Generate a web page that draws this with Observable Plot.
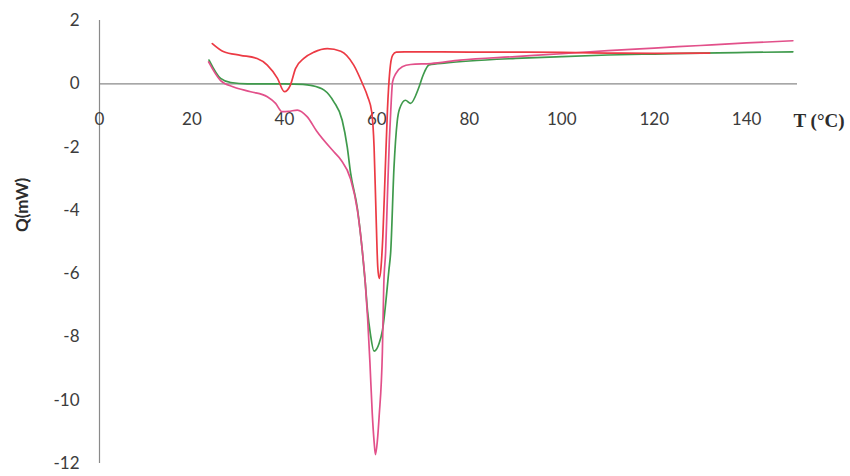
<!DOCTYPE html>
<html>
<head>
<meta charset="utf-8">
<script src="https://cdn.jsdelivr.net/npm/d3@7"></script>
<script src="https://cdn.jsdelivr.net/npm/@observablehq/plot@0.6"></script>
<style>
  html, body { margin: 0; padding: 0; background: #fff; }
  #chart svg { display: block; }
</style>
</head>
<body>
<div id="chart"></div>
<script>
// Temperature (°C) and heat flow Q (mW)
const redT = [24.4, 26.9, 30.5, 34.1, 36.3, 38.5, 40.0, 41.3, 42.4, 44.2, 46.4, 49.3, 52.2, 55.0, 56.9, 58.0, 58.9, 59.4, 59.8, 60.2, 60.5, 60.9, 61.3, 61.8, 62.3, 62.8, 63.4, 64.2, 66, 70, 80, 90, 100, 110, 120, 132];
const redQ = [1.27, 1.01, 0.90, 0.80, 0.59, 0.17, -0.25, -0.04, 0.48, 0.80, 1.00, 1.11, 1.03, 0.59, 0.0, -0.4, -0.9, -2.0, -4.0, -5.8, -6.15, -5.8, -4.8, -2.8, -0.8, 0.4, 0.9, 1.0, 1.01, 1.01, 1.0, 1.0, 0.99, 0.97, 0.96, 0.97];

const pinkT = [23.6, 26.2, 29.0, 32.7, 36.3, 38.1, 39.5, 40.9, 42.8, 44.9, 47.0, 50.7, 52.2, 54.3, 55.8, 56.8, 57.5, 58.0, 58.5, 59.0, 59.4, 59.7, 60.1, 60.5, 61.2, 61.5, 61.9, 62.3, 62.7, 63.0, 63.4, 64.1, 65.5, 67.3, 71.7, 78, 90, 100, 110, 120, 130, 140, 150];
const pinkQ = [0.69, 0.10, -0.10, -0.25, -0.41, -0.62, -0.88, -0.87, -0.83, -1.04, -1.50, -2.15, -2.40, -3.0, -4.0, -5.2, -6.3, -7.4, -8.8, -10.4, -11.3, -11.72, -11.3, -10.5, -8.45, -6.35, -5.3, -3.5, -1.8, -0.88, 0.06, 0.32, 0.54, 0.61, 0.64, 0.75, 0.86, 0.95, 1.05, 1.13, 1.21, 1.29, 1.36];

const greenT = [23.7, 26.2, 28.4, 32, 36, 40, 44, 45.7, 48.6, 50.7, 52.5, 53.6, 54.3, 55.8, 56.8, 57.5, 58.0, 58.6, 59.4, 60.5, 61.2, 62.6, 63.0, 63.7, 64.4, 64.9, 66.2, 67.3, 69.0, 70.0, 71.3, 75, 80, 90, 100, 110, 120, 130, 140, 150];
const greenQ = [0.75, 0.17, 0.04, 0.0, 0.0, 0.0, -0.02, -0.05, -0.20, -0.57, -1.15, -2.0, -2.8, -3.95, -5.2, -6.3, -7.2, -7.9, -8.45, -8.2, -7.8, -5.9, -5.3, -2.67, -1.2, -0.8, -0.52, -0.62, -0.15, 0.27, 0.60, 0.66, 0.72, 0.80, 0.86, 0.91, 0.94, 0.97, 0.99, 1.01];

const xTicks = [0, 20, 40, 60, 80, 100, 120, 140];
const yTicks = [2, 0, -2, -4, -6, -8, -10, -12];

const toRows = (T, Q) => T.map((t, i) => ({t, q: Q[i]}));
const red = toRows(redT, redQ);
const pink = toRows(pinkT, pinkQ);
const green = toRows(greenT, greenQ);

const font = "Lato, 'Open Sans', sans-serif";

const chart = Plot.plot({
  width: 850,
  height: 476,
  marginLeft: 99,
  marginRight: 53,
  marginTop: 20,
  marginBottom: 13,
  style: {fontFamily: font, fontSize: "17px", color: "#3c3c3c", background: "#fff"},
  x: {domain: [0, 151], axis: null},
  y: {domain: [-12, 2], axis: null},
  marks: [
    Plot.axisY({ticks: yTicks, tickSize: 0, tickPadding: 20, tickFormat: d => String(d), label: null, fontSize: 17, fill: "#3c3c3c"}),
    Plot.ruleX([0], {stroke: "#8a8a8a", strokeWidth: 1.2}),
    Plot.ruleY([0], {stroke: "#8a8a8a", strokeWidth: 1.2}),
    Plot.text(xTicks, {x: d => d, y: 0, dy: 36, text: d => String(d), fontSize: 17, fill: "#3c3c3c"}),
    Plot.line(green, {x: "t", y: "q", stroke: "#3f9a4c", strokeWidth: 1.7, curve: "monotone-x"}),
    Plot.line(pink, {x: "t", y: "q", stroke: "#e2508a", strokeWidth: 1.7, curve: "monotone-x"}),
    Plot.line(red, {x: "t", y: "q", stroke: "#ec3a44", strokeWidth: 1.7, curve: "monotone-x"}),
    Plot.text(["Q(mW)"], {frameAnchor: "left", dx: -77, dy: -10, rotate: -90, text: d => d, fontSize: 17, fontWeight: "bold", fill: "#2c2c2c"}),
    Plot.text(["T (°C)"], {frameAnchor: "top-right", dx: -4, dy: 93, textAnchor: "start", text: d => d, fontSize: 19, fontWeight: "bold", fontFamily: "'Liberation Serif', serif", fill: "#2c2c2c"})
  ]
});
document.getElementById("chart").appendChild(chart);
</script>
</body>
</html>
